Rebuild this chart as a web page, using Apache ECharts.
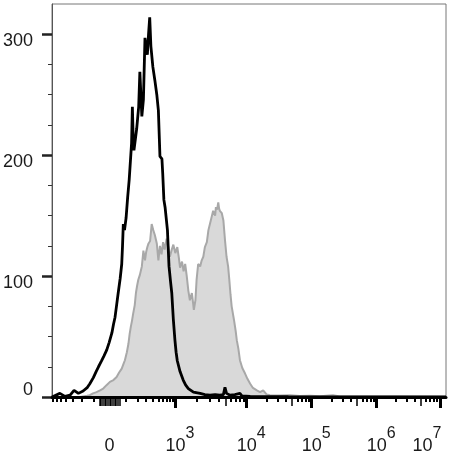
<!DOCTYPE html>
<html><head><meta charset="utf-8">
<script src="https://cdn.jsdelivr.net/npm/echarts@6/dist/echarts.min.js"></script>
<style>html,body{margin:0;padding:0;background:#fff}#c{width:454px;height:460px}</style>
</head><body><div id="c"></div>
<script>
// Histogram bins: display channel (0-1000 across the axis) and event counts
const blackX = [0,3,20,33,46,56,67,79,90,96,105,112,118,126,132,139,145,152,156,160,164,168,173,177,179,181,184,188,192,196,202,204,206,208,215,220,223,228,232,236,239,242,245,248,251,256,261,266,270,274,279,281,284,287,293,297,301,304,308,312,315,318,325,333,339,346,359,376,388,401,414,426,435,439,443,452,464,477,482,503,600,1000];
const blackY = [0,0,3,0.5,1.5,5.5,3,5,8,11,16,21,25,30,34,39,45,53,60,66,76,86,98,110,125,143,138,148,165,180,210,240,215,204,222,240,269,232,246,297,290,283,300,314,290,273,262,250,237,199,197,185,163,157,138,108,95,86,64,47,37,30,21,14,10,7,4,3,2,1.5,2,1.5,2,8,3,1.5,2,3,1,0.5,0.3,0];
const greyX = [0,71,89,96,104,113,122,130,139,147,156,164,170,177,181,185,190,194,197,200,203,206,210,213,216,219,223,228,232,236,239,242,245,249,253,257,261,266,270,274,278,282,286,291,295,299,304,308,313,318,322,325,330,334,338,342,346,350,355,358,360,364,367,371,376,380,384,388,393,397,403,406,409,414,416,419,422,424,426,431,435,439,443,447,450,453,456,462,466,469,473,477,483,490,496,503,510,520,528,536,545,553,579,604,629,655,680,713,731,782,883,1000];
const greyY = [0,0,1,1.5,3,4,5.5,7,10,12.5,14,16.6,20,23.5,27,30.4,37,44,52,58,63,69,76,86,92,97,101,108,121,113,120,124,127,129,143,138,134,127,113,125,118,128,122,131,124,116,122,126,119,124,115,107,112,104,110,100,88,80,86,78,72,80,97,110,108,113,116,124,128,138,146,150,154,150,157,155,161,156,154,152,146,130,116,108,97,85,75,63.5,55,47,40,30.4,24,19.4,15,11,7.5,5.5,4,5.5,2,1.4,1.2,1.5,0.8,1,0.6,1.4,0.5,0.5,0.4,0.3];

// Axis ticks and labels (in fluorescence units, mapped by the biexponential scale)
const yMajorTicks = [0,100,200,300];
const yMinorTicks = [25,50,75,125,150,175,225,250,275];
const xLabelValues = [0,1e3,1e4,1e5,1e6,1e7];
const xLabelExp = ['', '3', '4', '5', '6', '7'];
const xMajorTicks = [1e3,1e4,1e5,1e6,1e7];
const xMidTicks = [5e3,5e4,5e5,5e6,-60,-50,-40,-30,-20,-10,0,10,20,30,40,50,60];
const xMinorTicks = [-700,-600,-500,-400,-300,-200,-100,100,200,300,400,500,600,700,800,900,
  2e3,3e3,4e3,6e3,7e3,8e3,9e3,2e4,3e4,4e4,6e4,7e4,8e4,9e4,2e5,3e5,4e5,6e5,7e5,8e5,9e5,2e6,3e6,4e6,6e6,7e6,8e6,9e6];

// biexponential display scale: value -> channel
const ZERO_CH = 146, LIN_W = 150;
const DECADES = [[3,313.5],[4,494.2],[5,659.1],[6,824.1],[7,984.8]];
function T(v){
  if (Math.abs(v) < 1000) {
    const f = Math.asinh(Math.abs(v)/LIN_W)/Math.asinh(1000/LIN_W);
    return ZERO_CH + Math.sign(v)*f*(DECADES[0][1]-ZERO_CH);
  }
  const l = Math.log10(v);
  for (let i=0;i<DECADES.length-1;i++){
    if (l <= DECADES[i+1][0]) return DECADES[i][1] + (l-DECADES[i][0])*(DECADES[i+1][1]-DECADES[i][1]);
  }
  return DECADES[DECADES.length-1][1];
}
const labelMap = {};
xLabelValues.forEach((v,i)=>{ labelMap[T(v).toFixed(3)] = i; });

const FONT = 'Liberation Sans, Arial, sans-serif';
const TXT = '#1a1a1a';
function xAxisBase(ticks, len, width){
  return {
    type:'value', min:0, max:1000, position:'bottom', gridIndex:0,
    axisLine:{show:false, onZero:false}, splitLine:{show:false},
    axisLabel:{show:false},
    axisTick:{show:true, inside:false, length:len, customValues:ticks.map(T),
      lineStyle:{color:'#000', width:width}}
  };
}
const major = xAxisBase(xMajorTicks, 11, 3);
major.axisLine = {show:true, onZero:false, lineStyle:{color:'#000', width:3}};
major.z = 5;
major.axisLabel = {
  show:true, customValues: xLabelValues.map(T), margin:29, color:TXT, fontFamily:FONT, fontSize:18,
  formatter: function(val){
    const i = labelMap[Number(val).toFixed(3)];
    if (i === undefined) return '';
    if (i === 0) return '{z|0}';
    if (i === xLabelValues.length-1) return '{b7|10}{s7|' + xLabelExp[i] + '}';
    return '{b|10}{s|' + xLabelExp[i] + '}';
  },
  rich:{
    z:{fontSize:18, padding:[11,0,0,0], color:TXT, fontFamily:FONT},
    b:{fontSize:18, lineHeight:18, padding:[0,0,0,9], verticalAlign:'bottom', color:TXT, fontFamily:FONT},
    s:{fontSize:16, padding:[0,0,13,0], verticalAlign:'bottom', color:TXT, fontFamily:FONT},
    b7:{fontSize:18, lineHeight:18, verticalAlign:'bottom', color:TXT, fontFamily:FONT},
    s7:{fontSize:16, padding:[0,26,13,0], verticalAlign:'bottom', color:TXT, fontFamily:FONT}
  }
};
const mid = xAxisBase(xMidTicks, 9, 1.5);
const minor = xAxisBase(xMinorTicks, 5, 2);

const chart = echarts.init(document.getElementById('c'), null, {renderer:'canvas'});
chart.setOption({
  animation:false,
  backgroundColor:'#fff',
  grid:{left:52, right:8, top:4, bottom:63, show:true, borderColor:'#777', borderWidth:1, outerBoundsMode:'none', containLabel:false},
  xAxis:[major, mid, minor],
  yAxis:[{
    type:'value', min:0, max:325, position:'left',
    axisLine:{show:true, onZero:false, lineStyle:{color:'#555', width:1}},
    splitLine:{show:false},
    axisTick:{show:true, length:10, customValues:yMajorTicks, lineStyle:{color:'#222', width:2.5}},
    axisLabel:{show:true, customValues:yMajorTicks, margin:19, color:TXT, fontFamily:FONT, fontSize:18,
      formatter:function(v){ return v === 0 ? '{yz|0}' : '{yn|' + v + '}'; },
      rich:{
        yz:{fontSize:18, padding:[0,0,13,0], color:TXT, fontFamily:FONT},
        yn:{fontSize:18, padding:[14,0,0,0], color:TXT, fontFamily:FONT}
      }}
  },{
    type:'value', min:0, max:325, position:'left',
    axisLine:{show:false, onZero:false}, splitLine:{show:false}, axisLabel:{show:false},
    axisTick:{show:true, length:4, customValues:yMinorTicks, lineStyle:{color:'#333', width:1}}
  }],
  series:[{
    type:'line', xAxisIndex:0, yAxisIndex:0, showSymbol:false, smooth:false,
    data: greyX.map((x,i)=>[x, greyY[i]]),
    lineStyle:{color:'#a8a8a8', width:2},
    areaStyle:{color:'#d9d9d9', opacity:1},
    z:2
  },{
    type:'line', xAxisIndex:0, yAxisIndex:0, showSymbol:false, smooth:false,
    data: blackX.map((x,i)=>[x, blackY[i]]),
    lineStyle:{color:'#000', width:2.8},
    z:3
  }]
});
</script></body></html>
